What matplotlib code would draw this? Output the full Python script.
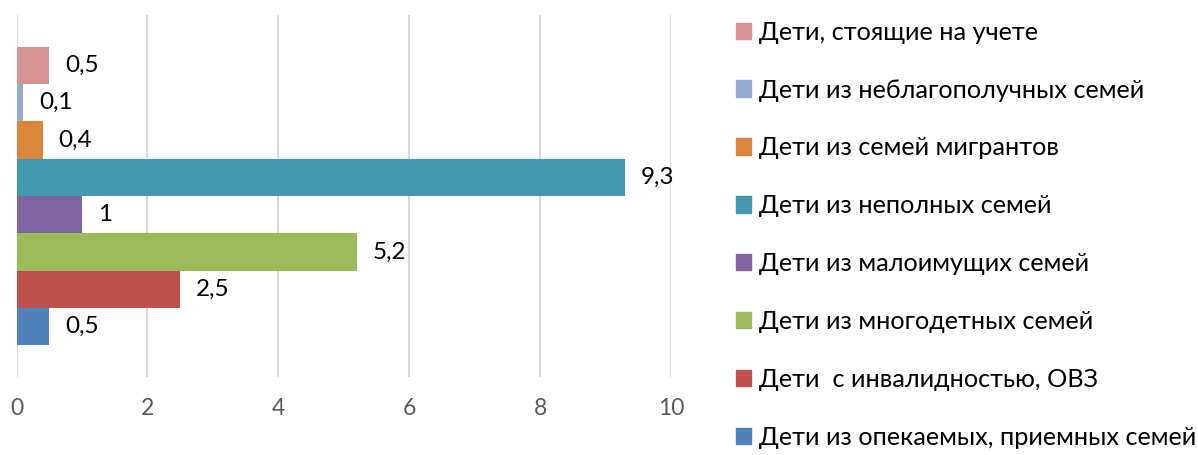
import matplotlib
matplotlib.use("Agg")
import matplotlib.pyplot as plt
from matplotlib.patches import Patch

plt.rcParams['font.family'] = ['Lato', 'DejaVu Sans']

# данные (снизу вверх)
categories = [
    'Дети из опекаемых, приемных семей',
    'Дети  с инвалидностью, ОВЗ',
    'Дети из многодетных семей',
    'Дети из малоимущих семей',
    'Дети из неполных семей',
    'Дети из семей мигрантов',
    'Дети из неблагополучных семей',
    'Дети, стоящие на учете',
]
values = [0.5, 2.5, 5.2, 1, 9.3, 0.4, 0.1, 0.5]
value_labels = ['0,5', '2,5', '5,2', '1', '9,3', '0,4', '0,1', '0,5']
colors = ['#4F81BD', '#C0504D', '#9BBB59', '#8064A2',
          '#4198AF', '#DD843B', '#95ABD4', '#D59391']

W, H = 1198, 455
fig = plt.figure(figsize=(W / 100, H / 100), dpi=100)
ax = fig.add_axes([16.5 / W, 1 - 377 / H, (671 - 16.5) / W, (377 - 15) / H])

y = range(len(values))
bars = ax.barh(y, values, height=1.0, color=colors, zorder=3)
for yi, v, lab in zip(y, values, value_labels):
    ax.annotate(lab, (v, yi), xytext=(11.5, 0), textcoords='offset points',
                va='center', ha='left', fontsize=17.5, color='black')

ax.set_xlim(0, 10)
ax.set_ylim(-1.35, 8.35)
ax.set_xticks([0, 2, 4, 6, 8, 10])
ax.set_yticks([])
ax.grid(axis='x', color='#D9D9D9', linewidth=1.5, zorder=0)
for s in ax.spines.values():
    s.set_visible(False)
ax.tick_params(axis='x', length=0, pad=15, labelsize=16.5, labelcolor='#595959')

handles = [Patch(color=c) for c in colors][::-1]
fig.legend(handles, categories[::-1], loc='upper left',
           bbox_to_anchor=(723 / W, 1 - 8 / H), frameon=False,
           fontsize=18.2, handlelength=0.62, handleheight=0.62,
           handletextpad=0.3, labelspacing=1.38, borderpad=0)

fig.savefig('out.png', dpi=100)
